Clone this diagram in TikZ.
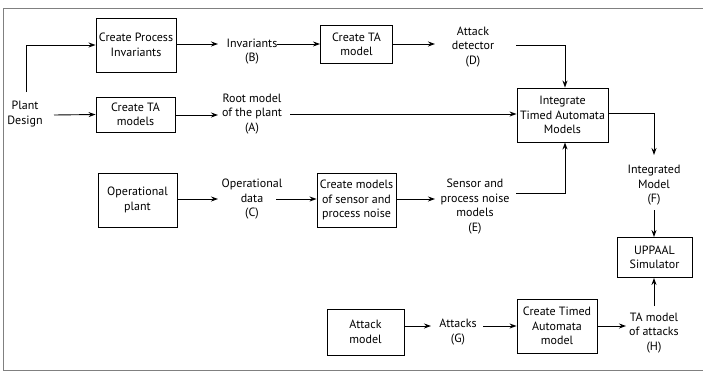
\documentclass[tikz,border=0pt]{standalone}
\usepackage{fontspec}
\setmainfont{PT Sans}
\usetikzlibrary{arrows.meta}
\begin{document}
\begin{tikzpicture}[x=1pt,y=-1pt,
  box/.style={draw,line width=0.9pt,inner sep=0pt,align=center,font=\fontsize{12}{14.5}\selectfont},
  lbl/.style={align=center,inner sep=0pt,font=\fontsize{12}{14.5}\selectfont},
  conn/.style={line width=0.9pt,-{Stealth[length=7pt,width=5pt]}},
  plain/.style={line width=0.9pt}]
\useasboundingbox (0,0) rectangle (703,372);
\draw[gray,line width=1pt] (703,8) -- (3,8) -- (3,370) -- (703,370);
% boxes
\node[box,minimum width=80pt,minimum height=54pt] (cpi) at (136,45) {Create Process\\Invariants};
\node[box,minimum width=79pt,minimum height=35pt] (cta) at (135.5,114.5) {Create TA\\models};
\node[box,minimum width=72pt,minimum height=38pt] (ctam) at (356.5,44.5) {Create TA\\model};
\node[box,minimum width=91pt,minimum height=54pt] (itam) at (562.5,115) {Integrate\\Timed Automata\\Models};
\node[box,minimum width=79pt,minimum height=54pt] (op) at (137.5,200) {Operational\\plant};
\node[box,minimum width=79pt,minimum height=54pt] (cms) at (356.5,200) {Create models\\of sensor and\\process noise};
\node[box,minimum width=75pt,minimum height=40pt] (upp) at (654.5,257.5) {UPPAAL\\Simulator};
\node[box,minimum width=77pt,minimum height=46pt] (am) at (365.5,332) {Attack\\model};
\node[box,minimum width=80pt,minimum height=54pt] (cta2) at (557,326) {Create Timed\\Automata\\model};
% labels
\node[lbl] (pd) at (25,114) {Plant\\Design};
\node[lbl] (inv) at (252,51.5) {Invariants\\(B)};
\node[lbl] (ad) at (473,47) {Attack\\detector\\(D)};
\node[lbl] (rm) at (252,114) {Root model\\of the plant\\(A)};
\node[lbl] (od) at (252,199.5) {Operational\\data\\(C)};
\node[lbl] (sn) at (475,206.5) {Sensor and\\process noise\\models\\(E)};
\node[lbl] (im) at (654,185.5) {Integrated\\Model\\(F)};
\node[lbl] (at) at (458,332) {Attacks\\(G)};
\node[lbl] (th) at (654,333) {TA model\\of attacks\\(H)};
% coordinates
\coordinate (pdtop) at (26,92);
\coordinate (pdr) at (54,115);
\coordinate (invL) at (218,44);
\coordinate (invR) at (277,44);
\coordinate (adL) at (435,44);
\coordinate (adR) at (516,45);
\coordinate (rmL) at (218,115);
\coordinate (rmR) at (290,114);
\coordinate (odL) at (218,199);
\coordinate (odR) at (276,199);
\coordinate (snL) at (435,199);
\coordinate (snR) at (516,193);
\coordinate (imT) at (654,155);
\coordinate (imB) at (654,210);
\coordinate (atL) at (431,326);
\coordinate (atR) at (483,326);
\coordinate (thL) at (626,326);
\coordinate (thT) at (654,306);
% connectors
\draw[conn] (pdtop) |- (cpi.west);
\draw[conn] (pdr) -- (cta.west);
\draw[conn] (cpi.east |- invL) -- (invL);
\draw[conn] (invR) -- (ctam.west |- invR);
\draw[conn] (ctam.east |- adL) -- (adL);
\draw[conn] (adR) -| (565,0 |- itam.north);
\draw[conn] (cta.east |- rmL) -- (rmL);
\draw[conn] (rmR) -- (itam.west |- rmR);
\draw[conn] (itam.east |- 0,113) -| (imT);
\draw[conn] (op.east |- odL) -- (odL);
\draw[conn] (odR) -- (cms.west |- odR);
\draw[conn] (cms.east |- snL) -- (snL);
\draw[conn] (snR) -| (565,0 |- itam.south);
\draw[conn] (imB) -- (upp.north -| imB);
\draw[conn] (thT) -- (upp.south -| thT);
\draw[conn] (am.east |- atL) -- (atL);
\draw[conn] (atR) -- (cta2.west |- atR);
\draw[conn] (cta2.east |- thL) -- (thL);
\end{tikzpicture}
\end{document}
